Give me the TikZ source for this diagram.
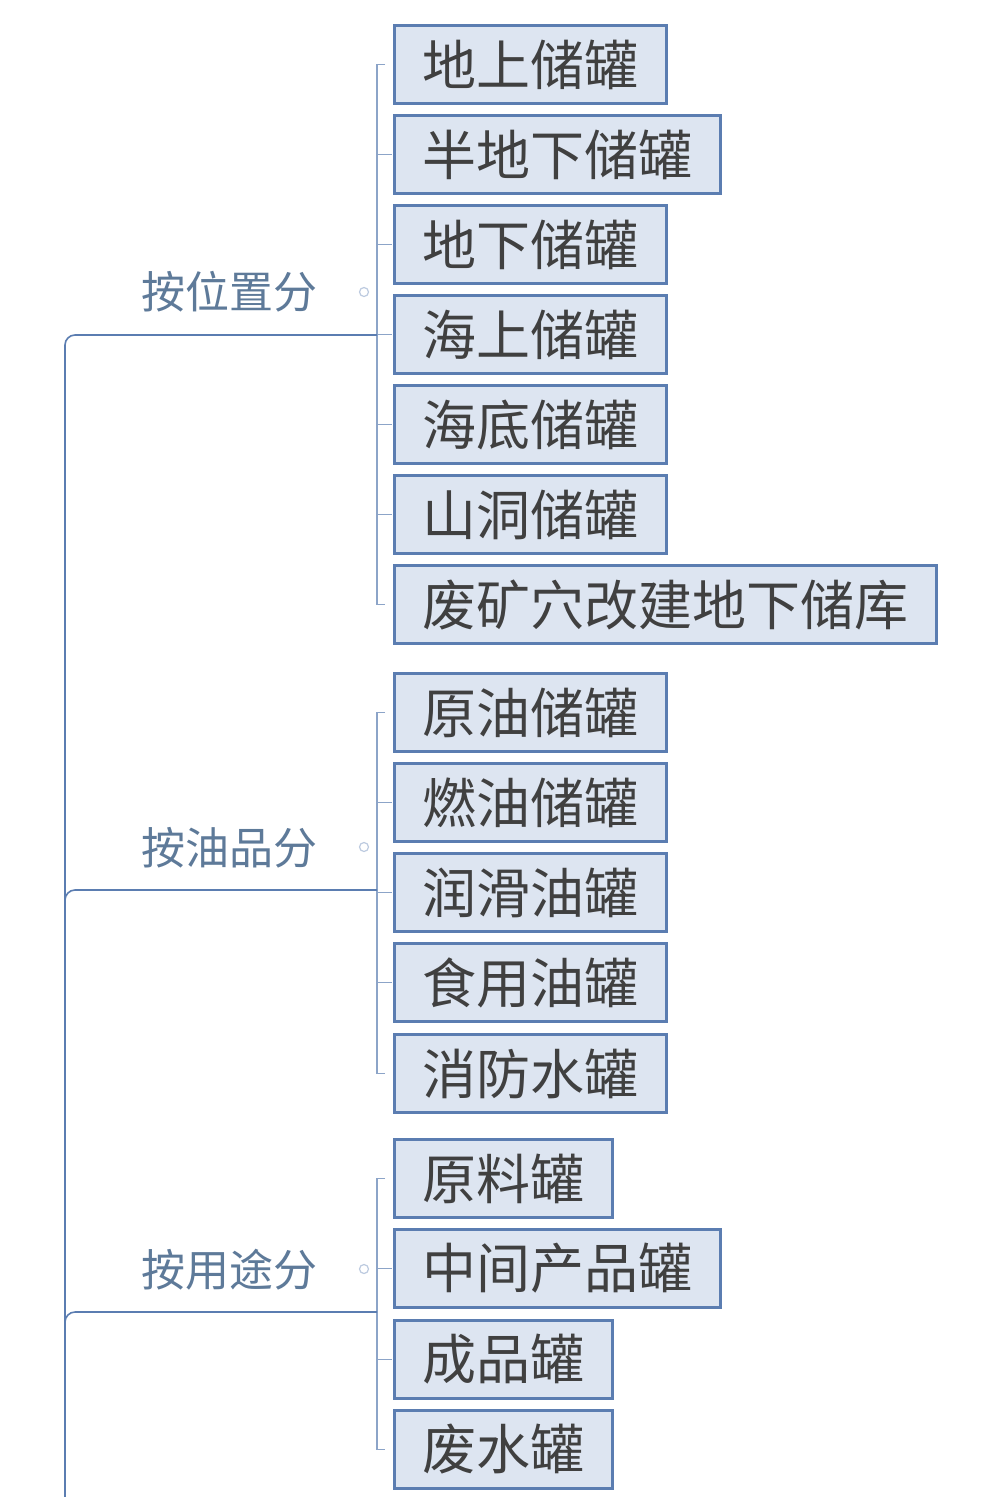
\documentclass[tikz,border=0pt]{standalone}
\usepackage{fontspec}
\newfontfamily\cjk{Noto Sans CJK SC}
\begin{document}
\begin{tikzpicture}[x=1pt,y=-1pt,
  leaf/.style={draw=lb, line width=3pt, fill=lf, anchor=north west, minimum height=78pt, inner xsep=28pt, font=\cjk\fontsize{54}{58}\selectfont, text=black!75},
  cat/.style={font=\cjk\fontsize{44}{48}\selectfont, text=ct},
  conn/.style={draw=lb, line width=1.6pt},
  thin/.style={draw=lb!70, line width=1.2pt}]
\definecolor{lb}{HTML}{5B7DB1}
\definecolor{lf}{HTML}{DDE5F1}
\definecolor{ct}{HTML}{5E7A99}
\useasboundingbox (0,0) rectangle (1000,1497);
\fill[white] (0,0) rectangle (1000,1497);
\foreach \n/\t/\y in {a1/地上储罐/24, a2/半地下储罐/114, a3/地下储罐/204, a4/海上储罐/294, a5/海底储罐/384, a6/山洞储罐/474, a7/废矿穴改建地下储库/564,
 b1/原油储罐/672, b2/燃油储罐/762, b3/润滑油罐/852, b4/食用油罐/942, b5/消防水罐/1033,
 c1/原料罐/1138, c2/中间产品罐/1228, c3/成品罐/1319, c4/废水罐/1409}
  \node[leaf] (\n) at (393,\y) {\t};
\node[cat] (ga) at (229,292) {按位置分};
\node[cat] (gb) at (229,848) {按油品分};
\node[cat] (gc) at (229,1270) {按用途分};
\foreach \g/\f/\l/\y in {a/1/7/335, b/1/5/890, c/1/4/1312}{
  \draw[thin] ([xshift=-8pt]\g\f.west) -- ++(-8,0) coordinate (t\g) -- (\g\l.west -| t\g) -- ([xshift=-8pt]\g\l.west);
  \coordinate (h\g) at (377,\y);
  \draw[thin, draw=lb!40] (364,\y-43) circle (4.5pt);
}
\foreach \n in {a2,a3,a4,a5,a6,b2,b3,b4,c2,c3}
  \draw[thin] (377,0 |- \n.west) -- ([xshift=-1pt]\n.west);
\coordinate (top) at (65,335);
\coordinate (bot) at (65,1497);
\draw[conn,rounded corners=10pt] (bot) -- (top) -- (ha);
\draw[conn,rounded corners=10pt] (65,905) |- (hb);
\draw[conn,rounded corners=10pt] (65,1327) |- (hc);
\end{tikzpicture}
\end{document}
